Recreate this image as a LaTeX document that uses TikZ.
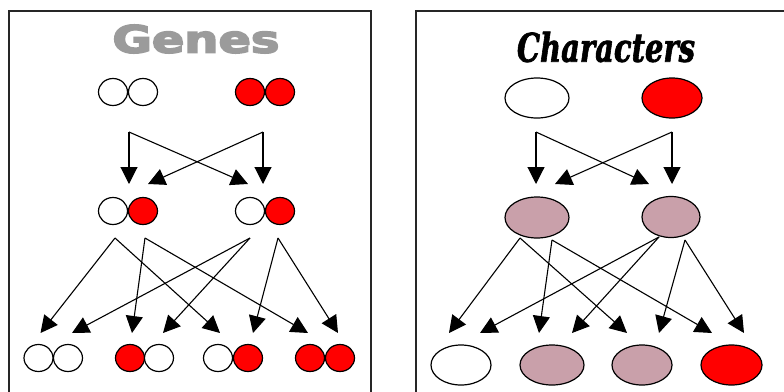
\documentclass[tikz,border=0pt]{standalone}
\usepackage{fontspec}
\usepackage{graphicx}
\newfontfamily\headsans{DejaVu Sans}[FakeBold=4]
\newfontfamily\headscript{DejaVu Serif}[FakeBold=2]
\usetikzlibrary{arrows.meta,shapes.geometric,calc}
\definecolor{allelered}{RGB}{255,0,0}
\definecolor{mauve}{RGB}{201,160,170}
\definecolor{titlegray}{RGB}{155,155,155}
\tikzset{
  allele/.style={ellipse,draw=black,line width=1.2pt,inner sep=0pt,
    minimum width=29pt,minimum height=27pt},
  wt/.style={fill=white},
  rd/.style={fill=allelered},
  trait/.style={ellipse,draw=black,line width=1.2pt,inner sep=0pt,
    minimum height=40pt},
  cross/.style={line width=1.1pt,-{Triangle[width=17pt,length=17pt]}},
  frame/.style={line width=1.8pt,draw=black!85}
}
\begin{document}
\begin{tikzpicture}[x=1pt,y=-1pt]
\useasboundingbox (0,0) rectangle (784,391);
\clip (0,0) rectangle (784,391);
\fill[white] (0,0) rectangle (784,391);

% panel frames (open at the bottom / right)
\draw[frame] (9,400) -- (9,11) -- (371,11) -- (371,400);
\draw[frame] (416,400) -- (416,11) -- (790,11);

% titles
\node[text=titlegray,inner sep=0pt] (tgenes) at (196,39)
  {\resizebox{167pt}{28pt}{\headsans\bfseries Genes}};
\node[inner sep=0pt] (tchars) at (606,47)
  {\resizebox{178pt}{30pt}{\headscript\bfseries\itshape Characters}};

% ---------- genes ----------
\node[allele,wt] (gA1) at (113,92) {};
\node[allele,wt] (gA2) at (143,92) {};
\node[allele,rd] (gB1) at (250,92) {};
\node[allele,rd] (gB2) at (280,92) {};

\node[allele,wt] (gC1) at (113,211) {};
\node[allele,rd] (gC2) at (143,211) {};
\node[allele,wt] (gD1) at (250,211) {};
\node[allele,rd] (gD2) at (280,211) {};

\node[allele,wt] (gE1) at (38.5,358) {};
\node[allele,wt] (gE2) at (68,358) {};
\node[allele,rd] (gF1) at (130,358) {};
\node[allele,wt] (gF2) at (159,358) {};
\node[allele,wt] (gG1) at (218,358) {};
\node[allele,rd] (gG2) at (248,358) {};
\node[allele,rd] (gH1) at (310,358) {};
\node[allele,rd] (gH2) at (340,358) {};

% parents -> F1
\coordinate (sA) at ($(gA1)!0.5!(gA2)+(1,40)$);
\coordinate (sB) at ($(gB1)!0.5!(gB2)+(-2,40)$);
\coordinate (tC) at ($(gC1)!0.5!(gC2)+(1,-27)$);
\coordinate (tCr) at ($(gC2)+(5,-27)$);
\coordinate (tDl) at ($(gD1)+(-2,-27)$);
\coordinate (tD) at ($(gD1)!0.5!(gD2)+(-2,-27)$);
\draw[cross] (sA) -- (tC);
\draw[cross] (sA) -- (tDl);
\draw[cross] (sB) -- (tD);
\draw[cross] (sB) -- (tCr);

% F1 -> F2
\foreach \src/\dx in {gC1/2,gC2/2,gD1/0,gD2/-2}
  \coordinate (\src s) at ($(\src)+(\dx,27)$);
\foreach \dst/\dx in {gE1/2,gE2/4,gF1/2,gF2/4,gG1/2,gG2/5,gH1/-2,gH2/-2}
  \coordinate (\dst t) at ($(\dst)+(\dx,-25)$);
\draw[cross] (gC1s) -- (gE1t);
\draw[cross] (gC1s) -- (gG1t);
\draw[cross] (gC2s) -- (gF1t);
\draw[cross] (gC2s) -- (gH1t);
\draw[cross] (gD1s) -- (gE2t);
\draw[cross] (gD1s) -- (gF2t);
\draw[cross] (gD2s) -- (gG2t);
\draw[cross] (gD2s) -- (gH2t);

% ---------- characters ----------
\node[trait,fill=white,minimum width=64pt] (cA) at (537,98) {};
\node[trait,fill=allelered,minimum width=60pt] (cB) at (672,98) {};

\node[trait,fill=mauve,minimum width=64pt,minimum height=41pt] (cC) at (537,217.5) {};
\node[trait,fill=mauve,minimum width=58pt,minimum height=41pt] (cD) at (671,217) {};

\node[trait,fill=white,minimum width=60pt] (cE) at (461,365) {};
\node[trait,fill=mauve,minimum width=64pt] (cF) at (552,365) {};
\node[trait,fill=mauve,minimum width=60pt] (cG) at (642,365) {};
\node[trait,fill=allelered,minimum width=61pt] (cH) at (731.5,365) {};

% parents -> F1
\coordinate (sCA) at ($(cA)+(-1,34)$);
\coordinate (sCB) at ($(cB)+(0,34)$);
\coordinate (tCC) at ($(cC)+(-1,-33.5)$);
\coordinate (tCCr) at ($(cC)+(18,-33.5)$);
\coordinate (tCDl) at ($(cD)+(-22,-33)$);
\coordinate (tCD) at ($(cD)+(1,-33)$);
\draw[cross] (sCA) -- (tCC);
\draw[cross] (sCA) -- (tCDl);
\draw[cross] (sCB) -- (tCD);
\draw[cross] (sCB) -- (tCCr);

% F1 -> F2
\coordinate (cCl) at ($(cC)+(-17,20.5)$);
\coordinate (cCr) at ($(cC)+(15,22.5)$);
\coordinate (cDl) at ($(cD)+(-12,20)$);
\coordinate (cDr) at ($(cD)+(14,23)$);
\coordinate (cEl) at ($(cE)+(-12,-32)$);
\coordinate (cEr) at ($(cE)+(19,-32)$);
\coordinate (cFl) at ($(cF)+(-13,-32)$);
\coordinate (cFr) at ($(cF)+(20,-32)$);
\coordinate (cGl) at ($(cG)+(-15,-32)$);
\coordinate (cGr) at ($(cG)+(17,-32)$);
\coordinate (cHl) at ($(cH)+(-19.5,-32)$);
\coordinate (cHr) at ($(cH)+(12.5,-32)$);
\draw[cross] (cCl) -- (cEl);
\draw[cross] (cCl) -- (cGl);
\draw[cross] (cCr) -- (cFl);
\draw[cross] (cCr) -- (cHl);
\draw[cross] (cDl) -- (cEr);
\draw[cross] (cDl) -- (cFr);
\draw[cross] (cDr) -- (cGr);
\draw[cross] (cDr) -- (cHr);
\end{tikzpicture}
\end{document}
